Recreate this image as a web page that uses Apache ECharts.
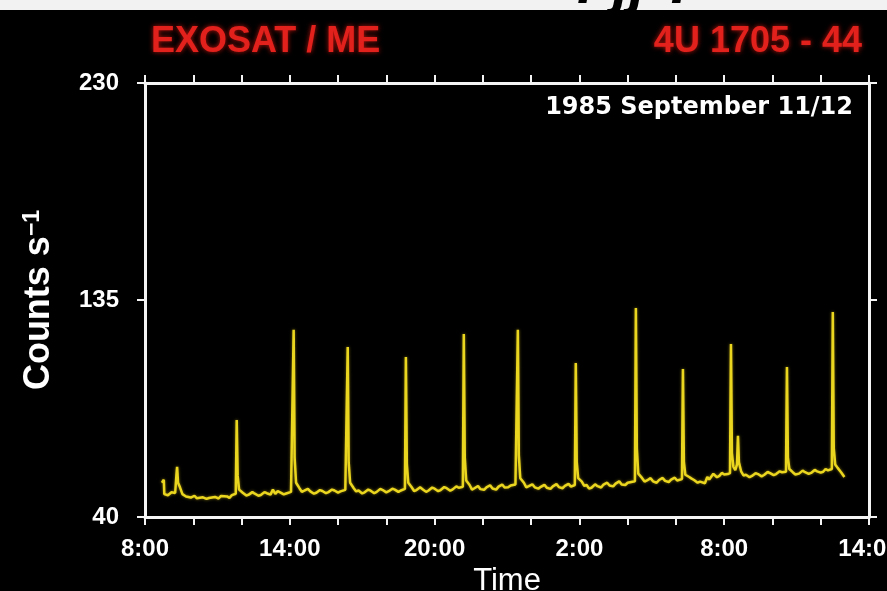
<!DOCTYPE html>
<html>
<head>
<meta charset="utf-8">
<style>
  html, body { margin: 0; padding: 0; background: #000; }
  #chart { width: 887px; height: 591px; }
</style>
<script src="https://cdn.jsdelivr.net/npm/echarts@6/dist/echarts.min.js"></script>
</head>
<body>
<div id="chart"></div>
<script>
// EXOSAT ME light curve of 4U 1705-44, 1985 September 11/12.
// Time is in hours after 8:00 on September 11.
const xTickLabels = ['8:00', '14:00', '20:00', '2:00', '8:00', '14:00'];
const yTicks = [40, 135, 230];

// persistent emission plus the X-ray bursts, [hours, counts/s]
const lightCurve = [
  [0.70, 55.0], [0.78, 56.3], [0.80, 50.0], [0.95, 49.5], [1.10, 50.8], [1.25, 50.5],
  [1.30, 58.0], [1.33, 62.0], [1.37, 55.0], [1.45, 53.0], [1.55, 50.0], [1.70, 49.0],
  [1.90, 48.5], [2.05, 49.3], [2.15, 48.2], [2.40, 48.6], [2.55, 47.9], [2.65, 48.3],
  [2.90, 48.8], [3.05, 48.1], [3.15, 49.2], [3.40, 49.0], [3.50, 48.4], [3.60, 49.6],
  [3.76, 50.2], [3.80, 82.5], [3.84, 58.0], [3.90, 52.0], [4.05, 50.6], [4.20, 49.4],
  [4.30, 49.8], [4.45, 50.9], [4.55, 50.2], [4.70, 49.3], [4.80, 49.6], [4.95, 50.9],
  [5.05, 50.4], [5.20, 49.8], [5.30, 52.0], [5.40, 50.1], [5.50, 51.3], [5.60, 50.8],
  [5.75, 49.9], [5.85, 50.3], [6.05, 51.0], [6.12, 51.5], [6.16, 122.0], [6.20, 66.0],
  [6.26, 55.0], [6.40, 52.6], [6.50, 51.0], [6.60, 51.5], [6.75, 52.3], [6.85, 51.2],
  [7.00, 50.2], [7.10, 50.6], [7.25, 51.8], [7.35, 51.4], [7.50, 50.4], [7.60, 50.9],
  [7.75, 52.0], [7.85, 51.6], [8.00, 50.7], [8.10, 51.2], [8.30, 51.9], [8.36, 52.2],
  [8.40, 114.4], [8.44, 64.0], [8.50, 55.0], [8.65, 52.6], [8.75, 51.2], [8.85, 51.6],
  [9.00, 50.3], [9.10, 50.8], [9.25, 52.0], [9.35, 51.5], [9.50, 50.4], [9.60, 51.0],
  [9.75, 52.3], [9.85, 51.8], [10.00, 50.8], [10.10, 51.3], [10.25, 52.4], [10.35, 52.0],
  [10.50, 51.0], [10.60, 51.6], [10.77, 52.3], [10.81, 110.0], [10.85, 63.0], [10.91, 55.0],
  [11.05, 53.0], [11.15, 51.4], [11.25, 51.8], [11.40, 53.0], [11.50, 52.2], [11.65, 51.0],
  [11.75, 51.6], [11.90, 52.9], [12.00, 52.4], [12.15, 51.3], [12.25, 51.8], [12.40, 53.1],
  [12.50, 52.6], [12.65, 51.5], [12.75, 52.1], [12.90, 53.4], [13.00, 52.8], [13.17, 53.2],
  [13.21, 120.1], [13.25, 66.0], [13.31, 56.0], [13.45, 54.0], [13.55, 52.0], [13.65, 52.6],
  [13.80, 53.6], [13.90, 52.2], [14.05, 51.9], [14.15, 53.0], [14.30, 53.9], [14.40, 52.5],
  [14.55, 52.0], [14.65, 53.3], [14.80, 54.2], [14.90, 52.9], [15.05, 53.0], [15.15, 53.8],
  [15.35, 54.2], [15.41, 54.6], [15.45, 122.0], [15.49, 67.0], [15.55, 57.0], [15.70, 55.0],
  [15.80, 53.0], [15.90, 53.5], [16.05, 54.3], [16.15, 53.0], [16.30, 52.4], [16.40, 53.2],
  [16.55, 54.1], [16.65, 52.8], [16.80, 52.3], [16.90, 53.4], [17.05, 54.4], [17.15, 53.1],
  [17.30, 52.6], [17.40, 53.6], [17.55, 54.5], [17.65, 53.3], [17.81, 54.0], [17.85, 107.4],
  [17.89, 64.0], [17.95, 57.0], [18.10, 55.5], [18.20, 53.6], [18.30, 54.0], [18.40, 52.4],
  [18.50, 52.8], [18.65, 54.3], [18.75, 53.5], [18.90, 52.9], [19.00, 54.2], [19.15, 55.0],
  [19.25, 53.8], [19.40, 53.4], [19.50, 54.6], [19.65, 55.6], [19.75, 54.2], [19.90, 54.0],
  [20.00, 55.0], [20.20, 55.4], [20.30, 55.6], [20.34, 131.5], [20.38, 70.0], [20.44, 59.0],
  [20.60, 57.0], [20.70, 55.5], [20.80, 56.0], [20.95, 57.0], [21.05, 55.6], [21.20, 55.0],
  [21.30, 56.2], [21.45, 57.1], [21.55, 55.8], [21.70, 55.3], [21.80, 56.4], [21.95, 57.2],
  [22.05, 56.0], [22.25, 56.6], [22.29, 104.8], [22.33, 64.0], [22.39, 58.5], [22.55, 57.5],
  [22.65, 56.8], [22.75, 56.2], [22.90, 55.0], [23.00, 55.5], [23.20, 54.8], [23.30, 57.5],
  [23.38, 56.4], [23.45, 56.8], [23.55, 58.9], [23.60, 58.5], [23.70, 57.4], [23.80, 58.0],
  [23.90, 59.3], [24.00, 58.6], [24.15, 58.8], [24.24, 59.2], [24.28, 115.7], [24.32, 68.0],
  [24.38, 62.0], [24.46, 60.5], [24.53, 63.0], [24.57, 75.5], [24.61, 64.0], [24.70, 60.0],
  [24.80, 58.2], [24.90, 58.5], [25.05, 57.4], [25.15, 58.0], [25.30, 59.2], [25.40, 58.8],
  [25.55, 57.8], [25.65, 58.4], [25.80, 59.7], [25.90, 59.2], [26.05, 58.3], [26.15, 58.8],
  [26.30, 60.0], [26.40, 59.6], [26.56, 59.8], [26.60, 105.7], [26.64, 66.0], [26.70, 61.0],
  [26.85, 59.5], [26.95, 58.6], [27.10, 59.0], [27.25, 60.3], [27.35, 59.6], [27.50, 58.9],
  [27.60, 59.3], [27.75, 60.6], [27.85, 60.0], [28.00, 59.4], [28.10, 59.8], [28.20, 61.0],
  [28.30, 60.4], [28.46, 61.0], [28.50, 129.7], [28.54, 70.0], [28.60, 63.0], [28.70, 61.5],
  [28.85, 59.5], [28.98, 57.5]
];

const FRAME = '#f4f4f4';
const LABEL_FONT = 'Liberation Sans, Arial, sans-serif';

const chart = echarts.init(document.getElementById('chart'), null, { renderer: 'canvas' });

const frameLine = { show: true, onZero: false, lineStyle: { color: FRAME, width: 3 } };
const frameTick = { show: true, inside: false, length: 8, lineStyle: { color: FRAME, width: 2 } };

chart.setOption({
  backgroundColor: '#000',
  animation: false,
  grid: { left: 145, right: 18, top: 83, bottom: 74, containLabel: false, outerBoundsMode: 'none' },
  xAxis: [
    {
      type: 'value', position: 'bottom', min: 0, max: 30, interval: 2,
      axisLine: frameLine, axisTick: frameTick, splitLine: { show: false },
      axisLabel: {
        color: '#fff', fontSize: 24, fontWeight: 'bold', fontFamily: LABEL_FONT, margin: 20,
        formatter: v => (v % 6 === 0 ? xTickLabels[v / 6] : '')
      },
      name: 'Time', nameLocation: 'middle', nameGap: 46,
      nameTextStyle: { color: '#fff', fontSize: 31, fontFamily: LABEL_FONT }
    },
    {
      type: 'value', position: 'top', min: 0, max: 30, interval: 2,
      axisLine: frameLine, axisTick: frameTick, splitLine: { show: false },
      axisLabel: { show: false }
    }
  ],
  yAxis: [
    {
      type: 'value', position: 'left', min: yTicks[0], max: yTicks[2], interval: yTicks[1] - yTicks[0],
      axisLine: frameLine, axisTick: frameTick, splitLine: { show: false },
      axisLabel: { color: '#fff', fontSize: 24, fontWeight: 'bold', fontFamily: LABEL_FONT, margin: 26 },
      name: 'Counts s{sup|−1}', nameLocation: 'middle', nameRotate: 90, nameGap: 88,
      nameTextStyle: {
        color: '#fff', fontSize: 36, fontWeight: 'bold', fontFamily: LABEL_FONT,
        rich: { sup: { color: '#fff', fontSize: 23, fontWeight: 'bold', fontFamily: LABEL_FONT, verticalAlign: 'top', lineHeight: 23 } }
      }
    },
    {
      type: 'value', position: 'right', min: yTicks[0], max: yTicks[2], interval: yTicks[1] - yTicks[0],
      axisLine: frameLine, axisTick: frameTick, splitLine: { show: false },
      axisLabel: { show: false }
    }
  ],
  series: [
    {
      type: 'line', xAxisIndex: 0, yAxisIndex: 0,
      data: lightCurve, showSymbol: false, smooth: false,
      lineStyle: { color: '#ead51f', width: 2.5, shadowColor: 'rgba(230,200,30,0.55)', shadowBlur: 3 }
    }
  ],
  graphic: [
    { type: 'rect', shape: { x: 0, y: 0, width: 887, height: 10 }, style: { fill: '#f2f2f2' }, z: 0 },
    {
      type: 'text', x: 576, y: -44, z: 1,
      style: { text: 'f jj ?', fill: '#000', font: 'italic bold 60px Liberation Sans, Arial, sans-serif' }
    },
    {
      type: 'text', x: 151, y: 42,
      style: {
        text: 'EXOSAT / ME', fill: '#e2201c', textVerticalAlign: 'middle',
        font: 'bold 36px Liberation Sans, Arial, sans-serif',
        textShadowColor: 'rgba(255,30,20,0.7)', textShadowBlur: 5
      }
    },
    {
      type: 'text', x: 862, y: 42,
      style: {
        text: '4U 1705 - 44', fill: '#e2201c', textAlign: 'right', textVerticalAlign: 'middle',
        font: 'bold 36px Liberation Sans, Arial, sans-serif',
        textShadowColor: 'rgba(255,30,20,0.7)', textShadowBlur: 5
      }
    },
    {
      type: 'text', x: 853, y: 108,
      style: {
        text: '1985 September 11/12', fill: '#fff', textAlign: 'right', textVerticalAlign: 'middle',
        font: 'bold 24px DejaVu Sans, sans-serif'
      }
    }
  ]
});
</script>
</body>
</html>
